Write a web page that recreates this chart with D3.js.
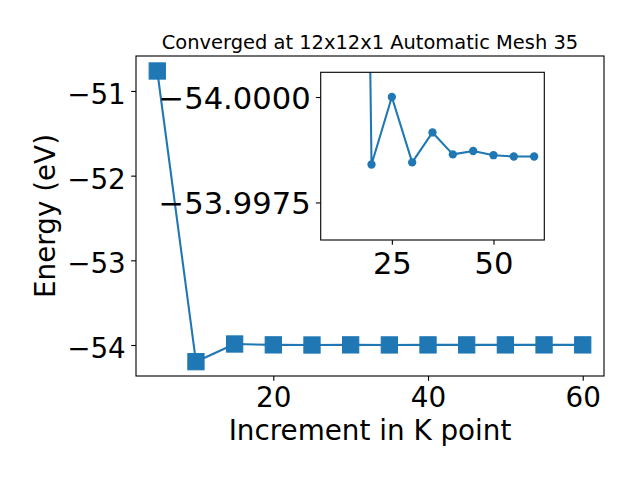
<!DOCTYPE html>
<html>
<head>
<meta charset="utf-8">
<script src="https://cdn.jsdelivr.net/npm/d3@7"></script>
<style>
  html, body { margin: 0; padding: 0; background: #fff; }
  svg { display: block; font-family: "DejaVu Sans", sans-serif; }
</style>
</head>
<body>
<svg id="chart" width="640" height="480"></svg>
<script>
// ---- data ----
const titleText = "Converged at 12x12x1 Automatic Mesh 35";
const xLabelText = "Increment in K point";
const yLabelText = "Energy (eV)";

const kPoints = [5, 10, 15, 20, 25, 30, 35, 40, 45, 50, 55, 60];
const energy = [-50.764, -54.197, -53.988, -53.9984, -54.0000, -53.99845, -53.99916, -53.99864, -53.99872, -53.99862, -53.99859, -53.99859];

const insetK = [10, 15, 20, 25, 30, 35, 40, 45, 50, 55, 60];
const insetEnergy = [-54.197, -54.035, -53.9984, -54.0000, -53.99845, -53.99916, -53.99864, -53.99872, -53.99862, -53.99859, -53.99859];

const mainXTicks = [20, 40, 60];
const mainYTicks = [-51, -52, -53, -54];
const insetXTicks = [25, 50];
const insetYTicks = [-54.0000, -53.9975];

// ---- layout ----
const color = "#1f77b4";
const svg = d3.select("#chart");
const M = { left: 136, right: 604, top: 56, bottom: 376 };
const I = { left: 320.7, right: 544.3, top: 72.3, bottom: 240 };
const tick = 4.86;
const lw = 1.11;

const x = d3.scaleLinear().domain([2.25, 62.75]).range([M.left, M.right]);
const y = d3.scaleLinear().domain([-54.366, -50.587]).range([M.bottom, M.top]);

const xi = d3.scaleLinear().domain([7.5, 62.5]).range([I.left, I.right]);
const yi = d3.scaleLinear().domain([-54.000586, -53.99661]).range([I.top, I.bottom]);

svg.append("rect").attr("width", 640).attr("height", 480).attr("fill", "#fff");

// ---- main axes ----
const gx = svg.append("g").attr("transform", `translate(0,${M.bottom})`)
  .call(d3.axisBottom(x).tickValues(mainXTicks).tickFormat(d3.format("d")).tickSize(tick).tickSizeOuter(0));
gx.select(".domain").remove();
gx.selectAll(".tick line").attr("stroke", "#000").attr("stroke-width", lw);
gx.selectAll(".tick text").attr("dy", null).attr("y", 31).attr("font-size", "27.8px").attr("fill", "#000").attr("font-family", "DejaVu Sans");

const gy = svg.append("g").attr("transform", `translate(${M.left},0)`)
  .call(d3.axisLeft(y).tickValues(mainYTicks).tickFormat(d3.format("d")).tickSize(tick).tickSizeOuter(0));
gy.select(".domain").remove();
gy.selectAll(".tick line").attr("stroke", "#000").attr("stroke-width", lw);
gy.selectAll(".tick text").attr("dy", null).attr("y", 12.5).attr("x", -10.2).attr("font-size", "27.8px").attr("fill", "#000").attr("font-family", "DejaVu Sans");

// main line
const line = d3.line().x((d, i) => x(kPoints[i])).y(d => y(d));
svg.append("path").datum(energy).attr("d", line)
  .attr("fill", "none").attr("stroke", color).attr("stroke-width", 2.08).attr("stroke-linejoin", "round");
const ms = 16.2;
svg.append("g").selectAll("rect").data(energy).join("rect")
  .attr("x", (d, i) => x(kPoints[i]) - ms / 2)
  .attr("y", d => y(d) - ms / 2)
  .attr("width", ms).attr("height", ms)
  .attr("fill", color).attr("stroke", color).attr("stroke-width", 1.1);

// frame
svg.append("rect").attr("x", M.left).attr("y", M.top)
  .attr("width", M.right - M.left).attr("height", M.bottom - M.top)
  .attr("fill", "none").attr("stroke", "#000").attr("stroke-width", lw);

// labels
svg.append("text").attr("x", (M.left + M.right) / 2).attr("y", 48.5)
  .attr("text-anchor", "middle").attr("font-size", "19.44px").attr("fill", "#000").text(titleText);
svg.append("text").attr("x", (M.left + M.right) / 2).attr("y", 440)
  .attr("text-anchor", "middle").attr("font-size", "27.8px").attr("fill", "#000").text(xLabelText);
svg.append("text").attr("transform", `translate(55,${(M.top + M.bottom) / 2}) rotate(-90)`)
  .attr("text-anchor", "middle").attr("font-size", "27.8px").attr("fill", "#000").text(yLabelText);

// ---- inset ----
svg.append("rect").attr("x", I.left).attr("y", I.top)
  .attr("width", I.right - I.left).attr("height", I.bottom - I.top).attr("fill", "#fff");

svg.append("defs").append("clipPath").attr("id", "insetClip")
  .append("rect").attr("x", I.left).attr("y", I.top)
  .attr("width", I.right - I.left).attr("height", I.bottom - I.top);

const ix = svg.append("g").attr("transform", `translate(0,${I.bottom})`)
  .call(d3.axisBottom(xi).tickValues(insetXTicks).tickFormat(d3.format("d")).tickSize(tick).tickSizeOuter(0));
ix.select(".domain").remove();
ix.selectAll(".tick line").attr("stroke", "#000").attr("stroke-width", lw);
ix.selectAll(".tick text").attr("dy", null).attr("y", 33.5).attr("font-size", "30.6px").attr("fill", "#000").attr("font-family", "DejaVu Sans");

const iy = svg.append("g").attr("transform", `translate(${I.left},0)`)
  .call(d3.axisLeft(yi).tickValues(insetYTicks).tickFormat(d3.format(".4f")).tickSize(tick).tickSizeOuter(0));
iy.select(".domain").remove();
iy.selectAll(".tick line").attr("stroke", "#000").attr("stroke-width", lw);
iy.selectAll(".tick text").attr("dy", null).attr("y", 11.3).attr("x", -10).attr("font-size", "30.6px").attr("fill", "#000").attr("font-family", "DejaVu Sans");

const gi = svg.append("g").attr("clip-path", "url(#insetClip)");
const iline = d3.line().x((d, i) => xi(insetK[i])).y(d => yi(d));
gi.append("path").datum(insetEnergy).attr("d", iline)
  .attr("fill", "none").attr("stroke", color).attr("stroke-width", 2.08).attr("stroke-linejoin", "round");
gi.selectAll("circle").data(insetEnergy).join("circle")
  .attr("cx", (d, i) => xi(insetK[i])).attr("cy", d => yi(d)).attr("r", 4.15)
  .attr("fill", color);

svg.append("rect").attr("x", I.left).attr("y", I.top)
  .attr("width", I.right - I.left).attr("height", I.bottom - I.top)
  .attr("fill", "none").attr("stroke", "#000").attr("stroke-width", lw);
</script>
</body>
</html>
